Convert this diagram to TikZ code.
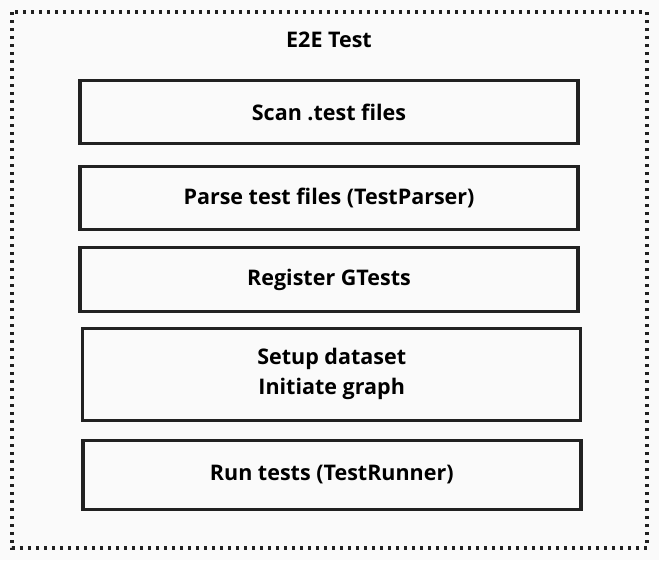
\documentclass[tikz,border=0pt]{standalone}
\usepackage{fontspec}
\setmainfont[Ligatures=NoCommon]{Open Sans}
\usepackage{tikz}
\usetikzlibrary{
    positioning,
    calc
}

\begin{document}
\begin{tikzpicture}[
    x=1pt, y=-1pt,
    paso/.style={
        rectangle,
        draw=black!87,
        line width=3.4pt,
        minimum width=498pt,
        minimum height=63pt,
        align=center,
        inner sep=0pt,
        font=\fontsize{21.5}{30}\selectfont\bfseries
    },
    marco/.style={
        draw=black!87,
        line width=3.4pt,
        dash pattern=on 3pt off 5pt
    }
]

% Fondo y marco punteado
\fill[black!2] (0,0) rectangle (659,560);
\useasboundingbox (0,0) rectangle (659,560);
\draw[marco] (12,12) rectangle (647,548);
\node[font=\fontsize{21.5}{30}\selectfont\bfseries] (titulo) at (329,40) {E2E Test};

% Pasos de la prueba
\node[paso] (scan) at (329,112) {Scan .test files};
\node[paso] (parse) at (329,198) {Parse test files (TestParser)};
\node[paso, minimum height=63.5pt] (register) at (329,279.5) {Register GTests};
\node[paso, minimum height=92pt] (setup) at (331.7,374.2) {Setup dataset\\Initiate graph};
\node[paso, minimum height=69pt] (run) at (331.8,475) {Run tests (TestRunner)};

\end{tikzpicture}
\end{document}
